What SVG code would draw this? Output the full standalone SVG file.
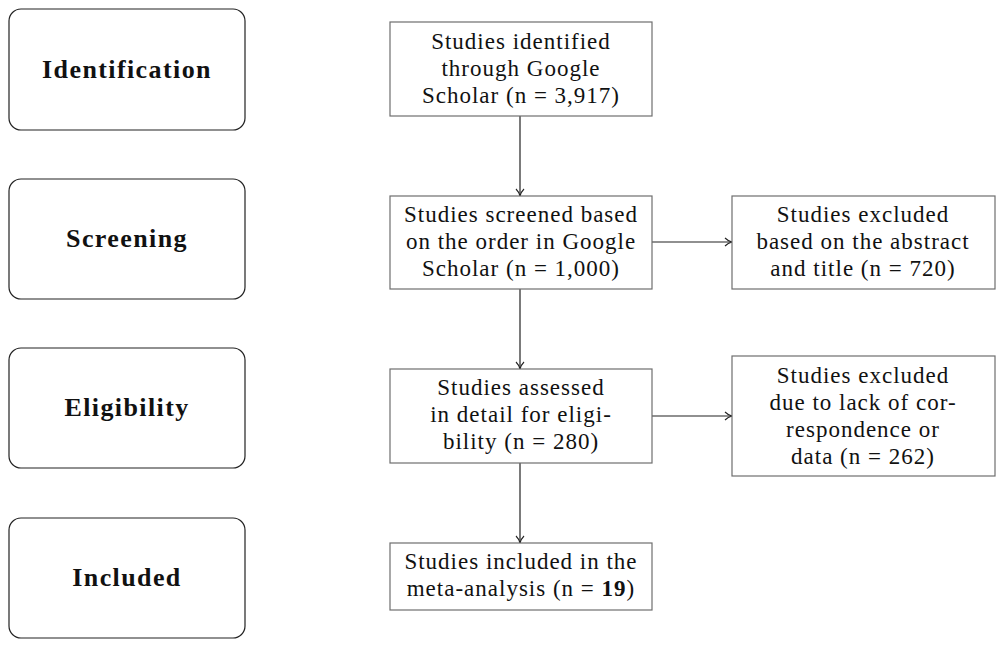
<svg xmlns="http://www.w3.org/2000/svg" width="1003" height="648" viewBox="0 0 1003 648">
<defs>
<style>
.stage{fill:#fff;stroke:#222;stroke-width:1.2}
.box{fill:#fff;stroke:#6e6e6e;stroke-width:1.2}
.t{font-family:"Liberation Serif","Times New Roman",serif;font-size:23px;fill:#111;text-anchor:middle;letter-spacing:1px}
.b{font-family:"Liberation Serif","Times New Roman",serif;font-size:26px;font-weight:bold;fill:#111;text-anchor:middle;letter-spacing:1.4px}
.c{stroke:#222;stroke-width:1.2;fill:none;marker-end:url(#ah)}
</style>
<marker id="ah" viewBox="0 0 10 10" refX="9" refY="5" markerWidth="10" markerHeight="10" markerUnits="userSpaceOnUse" orient="auto">
<path d="M2,1 Q5,4 9,5 Q5,6 2,9" fill="none" stroke="#222" stroke-width="1.1"/>
</marker>
</defs>
<rect width="1003" height="648" fill="#fff"/>
<g id="stage-identification"><rect class="stage" x="9" y="9" width="236" height="121" rx="12"/><text class="b" x="127" y="78">Identification</text></g>
<g id="stage-screening"><rect class="stage" x="9" y="179" width="236" height="120" rx="12"/><text class="b" x="127" y="247">Screening</text></g>
<g id="stage-eligibility"><rect class="stage" x="9" y="348" width="236" height="120" rx="12"/><text class="b" x="127" y="416">Eligibility</text></g>
<g id="stage-included"><rect class="stage" x="9" y="518" width="236" height="120" rx="12"/><text class="b" x="127" y="586">Included</text></g>
<g id="connectors">
<line class="c" x1="520" y1="116" x2="520" y2="196"/>
<line class="c" x1="520" y1="289" x2="520" y2="369"/>
<line class="c" x1="520" y1="463" x2="520" y2="543"/>
<line class="c" x1="652" y1="242" x2="732" y2="242"/>
<line class="c" x1="652" y1="416" x2="732" y2="416"/>
</g>
<g id="identified"><rect class="box" x="390" y="22" width="262" height="94"/>
<text class="t" x="521" y="49">Studies identified</text><text class="t" x="521" y="76">through Google</text><text class="t" x="521" y="103">Scholar (n = 3,917)</text></g>
<g id="screened"><rect class="box" x="390" y="196" width="262" height="93"/>
<text class="t" x="521" y="222">Studies screened based</text><text class="t" x="521" y="249">on the order in Google</text><text class="t" x="521" y="276">Scholar (n = 1,000)</text></g>
<g id="excluded-abstract"><rect class="box" x="732" y="196" width="263" height="93"/>
<text class="t" x="863" y="222">Studies excluded</text><text class="t" x="863" y="249">based on the abstract</text><text class="t" x="863" y="276">and title (n = 720)</text></g>
<g id="assessed"><rect class="box" x="390" y="369" width="262" height="94"/>
<text class="t" x="521" y="395">Studies assessed</text><text class="t" x="521" y="422">in detail for eligi-</text><text class="t" x="521" y="449">bility (n = 280)</text></g>
<g id="excluded-data"><rect class="box" x="732" y="356" width="263" height="120"/>
<text class="t" x="863" y="383">Studies excluded</text><text class="t" x="863" y="410">due to lack of cor-</text><text class="t" x="863" y="437">respondence or</text><text class="t" x="863" y="464">data (n = 262)</text></g>
<g id="included"><rect class="box" x="390" y="543" width="262" height="67"/>
<text class="t" x="521" y="569">Studies included in the</text><text class="t" x="521" y="596">meta-analysis (n = <tspan font-weight="bold">19</tspan>)</text></g>
</svg>
